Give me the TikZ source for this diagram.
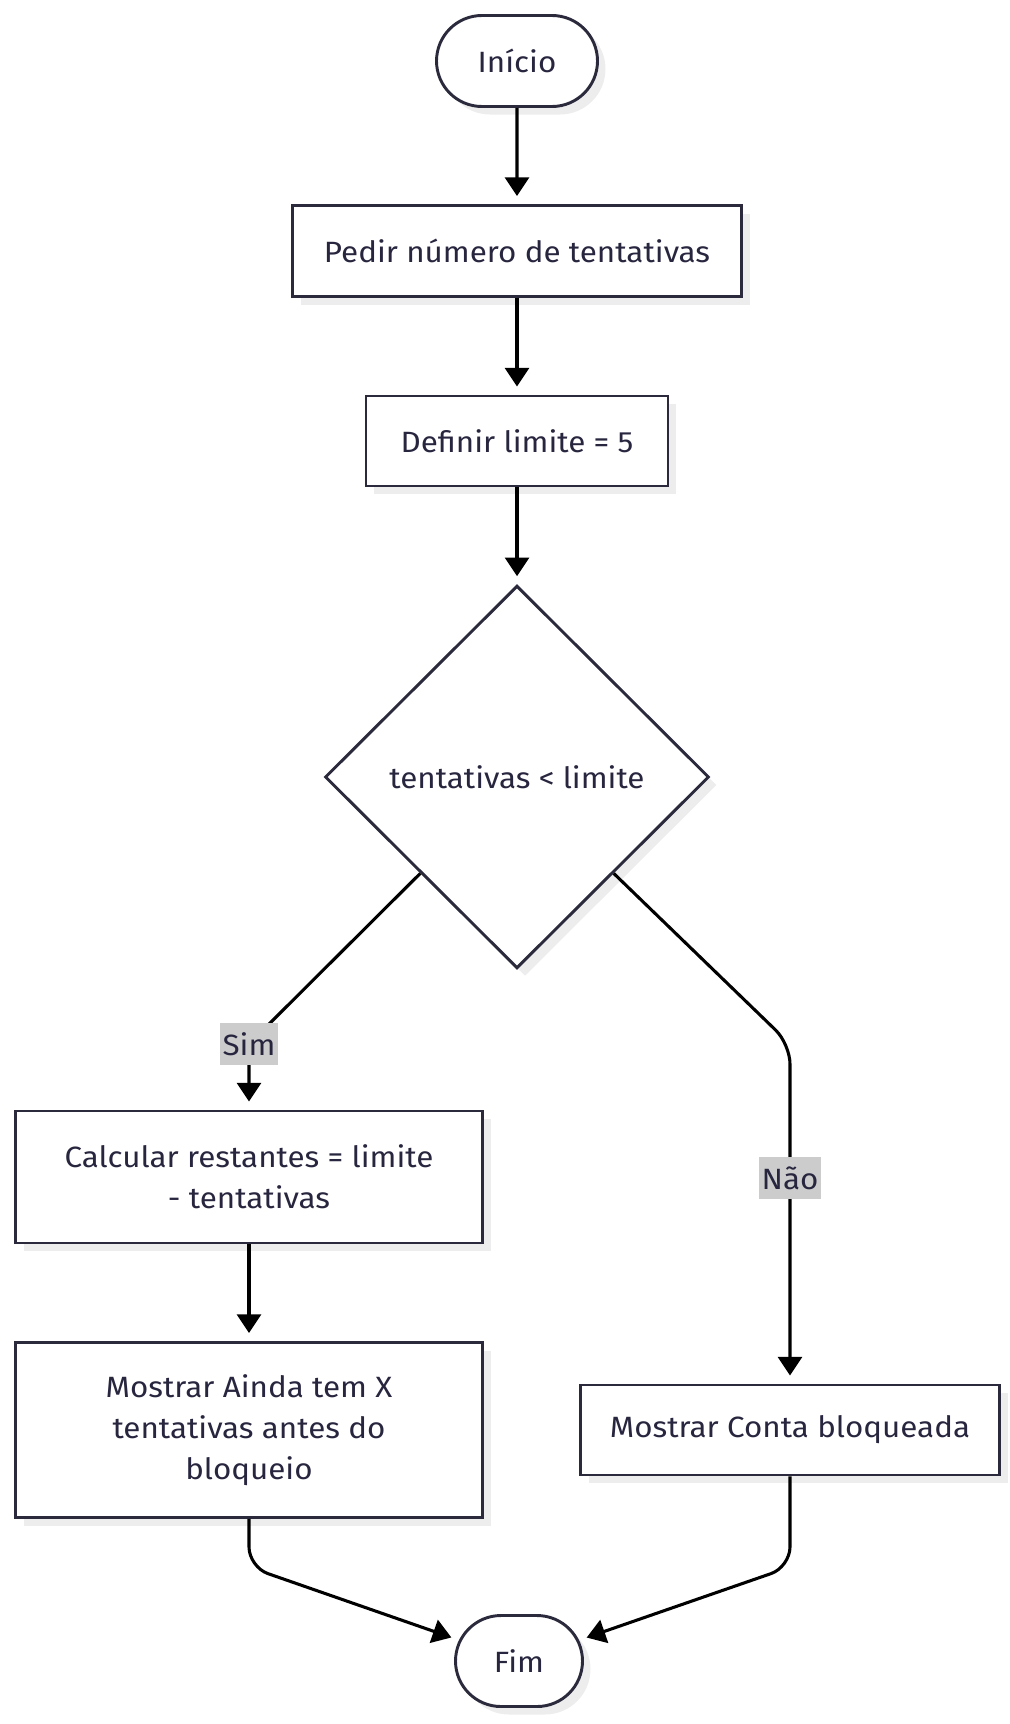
\documentclass[tikz,border=0pt]{standalone}
\usepackage{fontspec}
\setmainfont{Fira Sans}[FakeStretch=1.07]
\usetikzlibrary{shapes.geometric,shapes.misc,arrows.meta,shadows}

\definecolor{ink}{RGB}{40,38,63}
\definecolor{edge}{RGB}{42,42,60}
\definecolor{labelgray}{RGB}{204,204,204}

\begin{document}
\begin{tikzpicture}[
            x=0.75pt, y=-0.75pt,
            font=\fontsize{22}{30.75}\selectfont,
            base/.style={draw=edge, line width=2.2pt, fill=white, text=ink, align=center, inner sep=0pt,
                drop shadow={shadow xshift=6pt, shadow yshift=-6pt, fill=black!7, opacity=1}},
            terminal/.style={base, rounded rectangle, minimum height=68.25pt},
            box/.style={base, rectangle},
            decision/.style={base, diamond, minimum width=288pt, minimum height=287pt},
            lbl/.style={rectangle, sharp corners, fill=labelgray, text=ink, inner sep=2pt, minimum width=36pt, minimum height=31.5pt},
            arrow/.style={-{Triangle[length=14pt, width=18pt]}, line width=2.3pt, shorten >=6pt}
            ]
            \useasboundingbox (0,0) rectangle (1010,1724);

            % Main flow
            \node[terminal, minimum width=120.75pt] (inicio) at (517,61) {Início};
            \node[box, minimum width=336.75pt, minimum height=68.25pt] (pedir) at (517,251) {Pedir número de tentativas};
            \node[box, minimum width=226.5pt, minimum height=67.5pt] (definir) at (517,441) {Definir limite = 5};
            \node[decision] (teste) at (517,777) {tentativas < limite};

            % Branches
            \node[box, minimum width=350.25pt, minimum height=99pt] (calcular) at (249,1177) {Calcular restantes = limite\\- tentativas};
            \node[box, minimum width=350.25pt, minimum height=131.25pt] (ainda) at (249,1430) {Mostrar Ainda tem X\\tentativas antes do\\bloqueio};
            \node[box, minimum width=314.25pt, minimum height=67.5pt] (bloqueada) at (790,1430) {Mostrar Conta bloqueada};
            \node[terminal, minimum width=95.25pt] (fim) at (519,1661) {Fim};

            % Arrows
            \draw[arrow] (inicio) -- (pedir);
            \draw[arrow] (pedir) -- (definir);
            \draw[arrow] (definir) -- (teste);
            \draw[arrow, rounded corners=15pt] (teste.south west) -- (249,1044) node[lbl] {Sim} -- (calcular);
            \draw[arrow, rounded corners=15pt] (teste.south east) -- (790,1044) -- (790,1178) node[lbl] {Não} -- (bloqueada);
            \draw[arrow] (calcular) -- (ainda);
            \draw[arrow, rounded corners=15pt] (ainda) -- (249,1567) -- (fim);
            \draw[arrow, rounded corners=15pt] (bloqueada) -- (790,1567) -- (fim);

        \end{tikzpicture}
\end{document}
